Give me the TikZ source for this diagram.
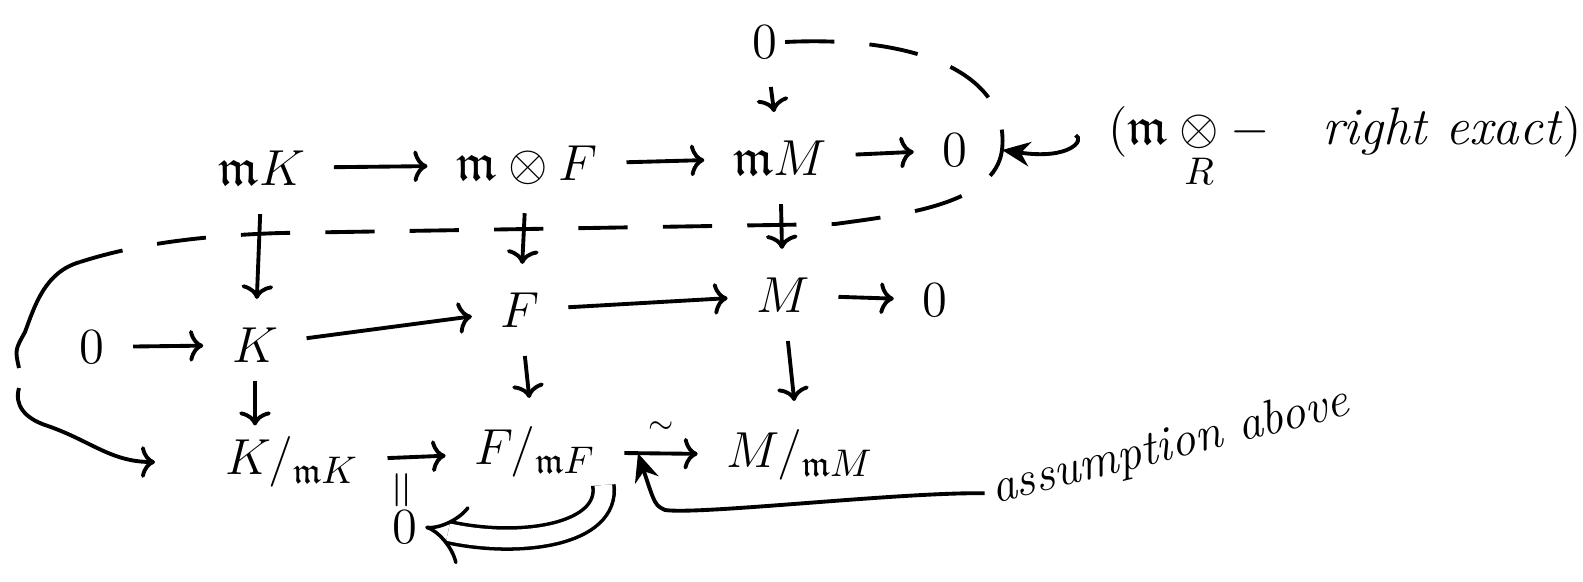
\documentclass[tikz,border=0pt]{standalone}
\usepackage{amsmath}
\usepackage{amssymb}
\usetikzlibrary{arrows.meta}
\begin{document}
\begin{tikzpicture}[
        x=0.01cm, y=-0.01cm,
        every node/.style={font=\fontsize{15}{18}\selectfont, inner sep=2pt},
        arrow/.style={-{To[length=4pt,width=9pt]}, line width=1.1pt, shorten >=6pt, shorten <=6pt},
        pointer/.style={-{Stealth[length=8pt,width=7pt]}, line width=1.1pt},
        dashline/.style={dash pattern=on 14pt off 10pt, line width=1.1pt},
        hand/.style={line width=1.1pt},
        implied/.style={double, double distance=5pt, line width=1pt, -{Implies}},
        note/.style={font=\fontsize{14}{17}\selectfont\itshape}
    ]
        \useasboundingbox (0,0) rectangle (1583,581);

        % top row
        \node (top0) at (765,42) {$0$};
        \node (mK) at (262,168) {$\mathfrak{m}K$};
        \node (mF) at (527,165) {$\mathfrak{m}\otimes F$};
        \node (mM) at (780,158) {$\mathfrak{m}M$};
        \node (zA) at (955,150) {$0$};

        % middle row
        \node (zB) at (92,347) {$0$};
        \node (K) at (255,345) {$K$};
        \node (F) at (520,310) {$F$};
        \node (M) at (783,295) {$M$};
        \node (zC) at (935,300) {$0$};

        % bottom row
        \node (KmK) at (292,462) {$K/_{\mathfrak{m}K}$};
        \node (FmF) at (535,452) {$F/_{\mathfrak{m}F}$};
        \node (MmM) at (800,455) {$M/_{\mathfrak{m}M}$};
        \node[rotate=90] (eqz) at (405,490) {$=$};
        \node (zD) at (405,527) {$0$};

        % notes
        \node (rex) at (1345,148) {$(\mathfrak{m}\underset{R}{\otimes}-$\quad\textit{right exact}$)$};
        \node[note, rotate=14] (assum) at (1170,447) {assumption above};

        % horizontal arrows
        \draw[arrow] (mK) -- (mF);
        \draw[arrow] (mF) -- (mM);
        \draw[arrow] (mM) -- (zA);
        \draw[arrow] (zB) -- (K);
        \draw[arrow] (K) -- (F);
        \draw[arrow] (F) -- (M);
        \draw[arrow] (M) -- (zC);
        \draw[arrow] (KmK) -- (FmF);
        \draw[arrow] (FmF) -- node[above=3pt, font=\small] (iso) {$\sim$} coordinate[pos=0.3] (isomid) (MmM);

        % vertical arrows
        \draw[arrow] (top0) -- (mM);
        \draw[arrow] (mK) -- (K);
        \draw[arrow] (mF) -- (F);
        \draw[arrow] (mM) -- (M);
        \draw[arrow, shorten <=3pt, shorten >=1pt] (K) -- (K |- KmK.north);
        \draw[arrow] (F) -- (FmF);
        \draw[arrow] (M) -- (MmM);

        % dashed loop and brace
        \coordinate (loopR) at (1002,150);
        \coordinate (braceA) at (80,262);
        \coordinate (braceB) at (155,462);
        \draw[dashline] (top0.east) .. controls (930,35) and (1010,80) .. (loopR)
            .. controls (995,205) and (900,215) .. (835,224)
            -- (280,233) .. controls (190,236) and (130,246) .. (braceA);
        \draw[hand] (braceA) .. controls (45,272) and (35,305) .. (25,332)
            .. controls (15,350) .. (19,368);
        \draw[arrow, shorten <=0pt, shorten >=0pt] (19,388) .. controls (14,405) and (25,418) .. (45,425)
            .. controls (90,440) and (110,462) .. (braceB);

        % annotations
        \draw[pointer, shorten <=8pt] (rex.west) .. controls (1085,140) and (1070,160) .. (loopR);
        \draw[implied] (FmF.south east) .. controls (610,535) and (520,548) .. (zD.east);
        \draw[pointer] (assum.west) .. controls (900,492) and (700,515) .. (665,510)
            .. controls (655,505) .. (isomid);
\end{tikzpicture}
\end{document}
